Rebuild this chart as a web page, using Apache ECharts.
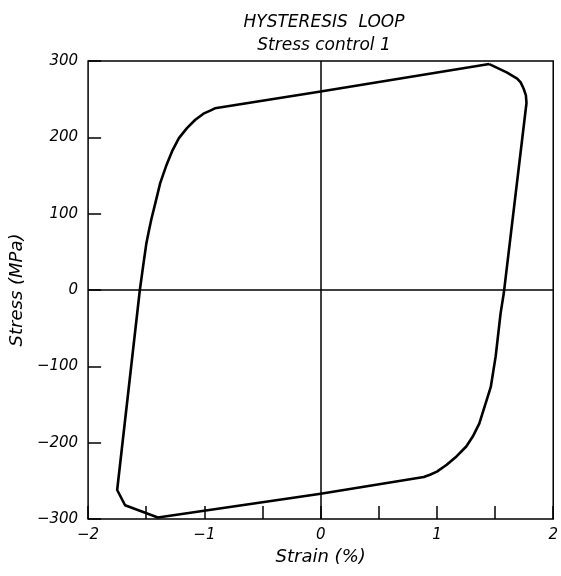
<!DOCTYPE html>
<html>
<head>
<meta charset="utf-8">
<script src="https://cdn.jsdelivr.net/npm/echarts@6/dist/echarts.min.js"></script>
<style>
  html, body { margin: 0; padding: 0; background: #fff; }
  #loop { width: 561px; height: 576px; }
</style>
</head>
<body>
<div id="loop"></div>
<script>
// loop traced clockwise from the upper tip
let strain = [
  1.45, 1.60, 1.69, 1.72, 1.745, 1.765, 1.77, 1.575, 1.547, 1.505, 1.463, 1.42,
  1.364, 1.308, 1.252, 1.168, 1.084, 1.0, 0.94, 0.887, 0, -1.40, -1.682, -1.75,
  -1.555, -1.527, -1.499, -1.478, -1.457, -1.415, -1.38, -1.33, -1.274, -1.219,
  -1.15, -1.078, -1.008, -0.95, -0.909, 0, 1.45
]
let stress = [
  296, 285, 277, 272, 264, 255, 245, -4, -31, -87, -127, -148,
  -175, -192, -205, -218, -229, -238, -242, -245, -267, -298, -282, -262,
  0, 31, 61, 77, 92, 118, 140, 162, 183, 199,
  212, 223, 231, 235, 238, 260, 296
]
let yTicks = [300, 200, 100, 0, -100, -200, -300]
let xLabels = [-2, -1, 0, 1, 2]

let points = []
for (let i = 0; i < strain.length; i++) {
  points.push([strain[i], stress[i]])
}

function minus(v) {
  return v < 0 ? '\u2212' + Math.abs(v) : String(v)
}

let font = 'DejaVu Sans'
let chart = echarts.init(document.getElementById('loop'))

let option = {
  animation: false,
  backgroundColor: '#fff',
  title: {
    text: 'HYSTERESIS  LOOP\nStress control 1',
    left: 319,
    top: 6,
    textAlign: 'center',
    textStyle: {
      fontFamily: font,
      fontStyle: 'italic',
      fontWeight: 'normal',
      fontSize: 17,
      lineHeight: 23,
      color: '#000'
    }
  },
  grid: {
    left: 82,
    right: 4,
    top: 61,
    bottom: 57,
    show: true,
    borderColor: '#000',
    borderWidth: 1.5
  },
  xAxis: {
    type: 'value',
    min: -2,
    max: 2,
    interval: 0.5,
    name: 'Strain (%)',
    nameLocation: 'middle',
    nameGap: 17,
    nameTextStyle: { fontFamily: font, fontStyle: 'italic', fontSize: 18, color: '#000' },
    axisLine: { show: false, onZero: false },
    axisTick: { show: true, inside: true, length: 13, lineStyle: { color: '#000', width: 1.5 } },
    splitLine: { show: false },
    axisLabel: {
      margin: 9,
      fontFamily: font,
      fontStyle: 'italic',
      fontSize: 15,
      color: '#000',
      formatter: function (v) {
        return xLabels.indexOf(v) >= 0 ? minus(v) : ''
      }
    }
  },
  yAxis: {
    type: 'value',
    min: -300,
    max: 300,
    interval: 100,
    name: 'Stress (MPa)',
    nameLocation: 'middle',
    nameGap: 57,
    nameTextStyle: { fontFamily: font, fontStyle: 'italic', fontSize: 18, color: '#000' },
    axisLine: { show: false, onZero: false },
    axisTick: { show: true, inside: true, length: 13, lineStyle: { color: '#000', width: 1.5 } },
    splitLine: { show: false },
    axisLabel: {
      margin: 10,
      fontFamily: font,
      fontStyle: 'italic',
      fontSize: 15,
      color: '#000',
      formatter: function (v) {
        return yTicks.indexOf(v) >= 0 ? minus(v) : ''
      }
    }
  },
  series: [
    {
      name: 'loop',
      type: 'line',
      data: points,
      showSymbol: false,
      symbol: 'none',
      lineStyle: { color: '#000', width: 2.6, join: 'round' },
      markLine: {
        silent: true,
        symbol: ['none', 'none'],
        label: { show: false },
        lineStyle: { color: '#000', type: 'solid', width: 1.5 },
        data: [{ xAxis: 0 }, { yAxis: 0 }]
      }
    }
  ]
}

chart.setOption(option)
</script>
</body>
</html>
